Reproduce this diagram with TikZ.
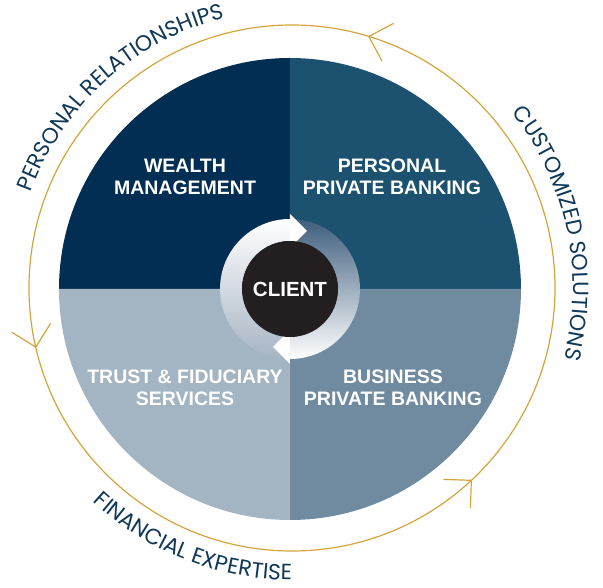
\documentclass[tikz,border=0pt]{standalone}
\usepackage{fontspec}
\setmainfont{Liberation Sans}
\newfontfamily\arcfont{Poppins}
\usetikzlibrary{decorations.text}
\definecolor{wealth}{RGB}{3,46,84}
\definecolor{personal}{RGB}{28,82,112}
\definecolor{trust}{RGB}{163,180,195}
\definecolor{business}{RGB}{112,139,160}
\definecolor{gold}{RGB}{212,164,60}
\definecolor{txt}{RGB}{16,56,88}
\definecolor{clientc}{RGB}{35,31,32}
\definecolor{taildark}{RGB}{62,94,126}
\definecolor{tailmid}{RGB}{196,205,215}
\definecolor{taillight}{RGB}{166,180,195}
\begin{document}
\begin{tikzpicture}[x=1pt,y=1pt,
  qlabel/.style={text=white, font=\bfseries\fontsize{19.5}{22}\selectfont, align=center, inner sep=0pt},
  goldline/.style={draw=gold, line width=1.2pt},
  arctext/.style={decorate, decoration={text along path, text align=center, text color=txt, text={|\arcfont\fontsize{22}{26}\selectfont|#1}}}]
\useasboundingbox (-290,-299) rectangle (313,289);
% quadrants
\fill[wealth] (0,0) -- (-231,0) arc[start angle=180,end angle=90,radius=231pt] -- cycle;
\fill[personal] (0,0) -- (0,231) arc[start angle=90,end angle=0,radius=231pt] -- cycle;
\fill[business] (0,0) -- (231,0) arc[start angle=0,end angle=-90,radius=231pt] -- cycle;
\fill[trust] (0,0) -- (0,-231) arc[start angle=-90,end angle=-180,radius=231pt] -- cycle;
% inner ring: right arrow (tail top, head bottom)
\shade[top color=taildark, middle color=tailmid, bottom color=white]
  (0,48) arc[start angle=90,end angle=-90,radius=48pt] -- (0,-70)
  arc[start angle=-90,end angle=90,radius=70pt] -- cycle;
% left arrow (tail bottom, head top)
\shade[top color=white, middle color=white!92!taillight, bottom color=taillight]
  (0,-48) arc[start angle=-90,end angle=-270,radius=48pt] -- (0,70)
  arc[start angle=90,end angle=270,radius=70pt] -- cycle;
% arrowheads
\fill[white] (0,41) -- (0,75) -- (17,58) -- cycle;
\fill[white] (0,-41) -- (0,-75) -- (-17,-58) -- cycle;
% client
\node[circle, fill=clientc, minimum size=96pt, inner sep=0pt, text=white,
  font=\bfseries\fontsize{20.5}{24}\selectfont] (client) at (0,0) {CLIENT};
% labels
\node[qlabel] (wm) at (-105,112) {WEALTH\\MANAGEMENT};
\node[qlabel] (ppb) at (102,112) {PERSONAL\\PRIVATE BANKING};
\node[qlabel] (tfs) at (-105,-99) {TRUST \& FIDUCIARY\\SERVICES};
\node[qlabel] (bpb) at (103,-99) {BUSINESS\\PRIVATE BANKING};
% gold ring
\coordinate (rc) at (2,1);
\draw[goldline] (rc) circle[radius=263pt];
\foreach \a [count=\i] in {73,193,313} {
  \path (rc) ++(\a:263pt) coordinate (ch\i);
  \draw[goldline] (ch\i) -- ++({\a-45}:28pt);
  \draw[goldline] (ch\i) -- ++({\a-135}:28pt);
}
% arc texts
\path (rc) ++(172:278pt) coordinate (s1);
\path[arctext={PERSONAL RELATIONSHIPS}] (s1) arc[start angle=172,end angle=92,radius=278pt];
\path (rc) ++(52:281pt) coordinate (s2);
\path[arctext={CUSTOMIZED SOLUTIONS}] (s2) arc[start angle=52,end angle=-28,radius=281pt];
\path (rc) ++(208:292pt) coordinate (s3);
\path[arctext={FINANCIAL EXPERTISE}] (s3) arc[start angle=208,end angle=289,radius=292pt];
\end{tikzpicture}
\end{document}
